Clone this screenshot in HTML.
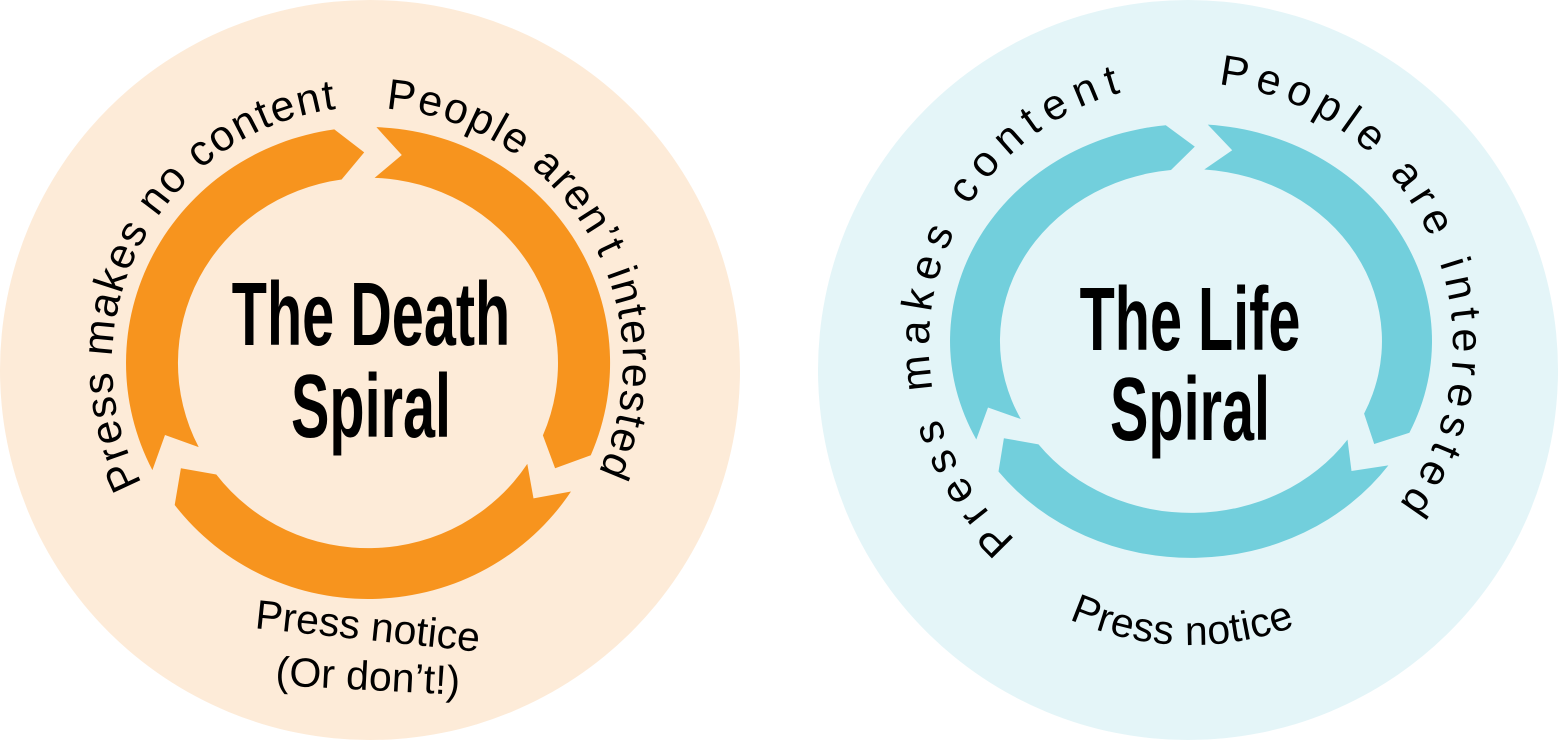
<!DOCTYPE html>
<html><head><meta charset="utf-8"><style>
html,body{margin:0;padding:0;background:#fff;}
svg{display:block}
.t{font-family:"Liberation Sans",sans-serif;font-size:43px;fill:#000;}
.b{font-family:"Liberation Sans",sans-serif;font-size:41px;fill:#000;}
.h{font-family:"Liberation Sans",sans-serif;font-weight:bold;font-size:90px;fill:#000;}
</style></head><body>
<svg id="s" width="1558" height="740" viewBox="0 0 1558 740" xmlns="http://www.w3.org/2000/svg">
<circle cx="370" cy="370" r="370" fill="#FDEBD8"/>
<circle cx="1188" cy="370" r="370" fill="#E4F5F8"/>
<g id="L" transform="translate(368,363) scale(1,0.975)"></g>
<g id="R" transform="translate(1191,341) scale(1,0.9)"></g>
<g id="LT" transform="translate(368,363)"></g>
<g id="RT" transform="translate(1191,345)"></g>
<g transform="translate(371,0) scale(0.64,1)">
<text class="h" x="0" y="345" text-anchor="middle">The Death</text>
<text class="h" x="0" y="437" text-anchor="middle">Spiral</text>
</g>
<g transform="translate(1190,0) scale(0.64,1)">
<text class="h" x="0" y="350" text-anchor="middle">The Life</text>
<text class="h" x="0" y="440" text-anchor="middle">Spiral</text>
</g>
<text class="b" x="368" y="640" text-anchor="middle" transform="rotate(6 368 625)">Press notice</text>
<text class="b" x="368" y="690" text-anchor="middle" transform="rotate(3 368 675)">(Or don’t!)</text>
</svg>
<script>
var NS="http://www.w3.org/2000/svg";
function P(r,a){a=a*Math.PI/180;return [r*Math.cos(a),r*Math.sin(a)];}
function f(p){return p[0].toFixed(1)+","+p[1].toFixed(1);}
function ring(g,col,ro,ri,gaps){
  var rm=(ro+ri)/2,h=5,d=7;
  for(var i=0;i<3;i++){
    var a1=gaps[i]+h, a2=gaps[(i+1)%3]-h; if(a2<a1)a2+=360;
    var s="M"+f(P(ro,a1))+" A"+ro+","+ro+" 0 "+((a2-a1)>180?1:0)+" 1 "+f(P(ro,a2))+
      " L"+f(P(rm,a2+d))+" L"+f(P(ri,a2))+
      " A"+ri+","+ri+" 0 "+((a2-a1)>180?1:0)+" 0 "+f(P(ri,a1))+
      " L"+f(P(rm,a1+d))+" Z";
    var p=document.createElementNS(NS,"path");p.setAttribute("d",s);p.setAttribute("fill",col);g.appendChild(p);
  }
}
var idc=0;
function arcText(g,r,a1,a2,txt,len,sweep,cls){
  var id="tp"+(idc++);
  var p=document.createElementNS(NS,"path");
  p.setAttribute("id",id);
  p.setAttribute("d","M"+f(P(r,a1))+" A"+r+","+r+" 0 0 "+sweep+" "+f(P(r,a2)));
  p.setAttribute("fill","none");g.appendChild(p);
  var t=document.createElementNS(NS,"text");t.setAttribute("class",cls||"t");
  var tp=document.createElementNS(NS,"textPath");tp.setAttribute("href","#"+id);
  if(len){tp.setAttribute("textLength",len);tp.setAttribute("lengthAdjust","spacing");}
  tp.textContent=txt;t.appendChild(tp);g.appendChild(t);
}
var L=document.getElementById("L"),R=document.getElementById("R");
var LT=document.getElementById("LT"),RT=document.getElementById("RT");
ring(L,"#F7941E",242,190,[-93,28,148]);
ring(R,"#72CFDC",241,191,[-91,30,148]);
arcText(LT,256,152,264,"Press makes no content",495,1);
arcText(LT,255,-86,26,"People aren’t interested",495,1);
arcText(RT,262,132,258,"Press makes content",560,1,"t");
arcText(RT,262,-84,40,"People are interested",555,1);
arcText(RT,300,114,66,"Press notice",232,0,"b");
</script>
</body></html>
